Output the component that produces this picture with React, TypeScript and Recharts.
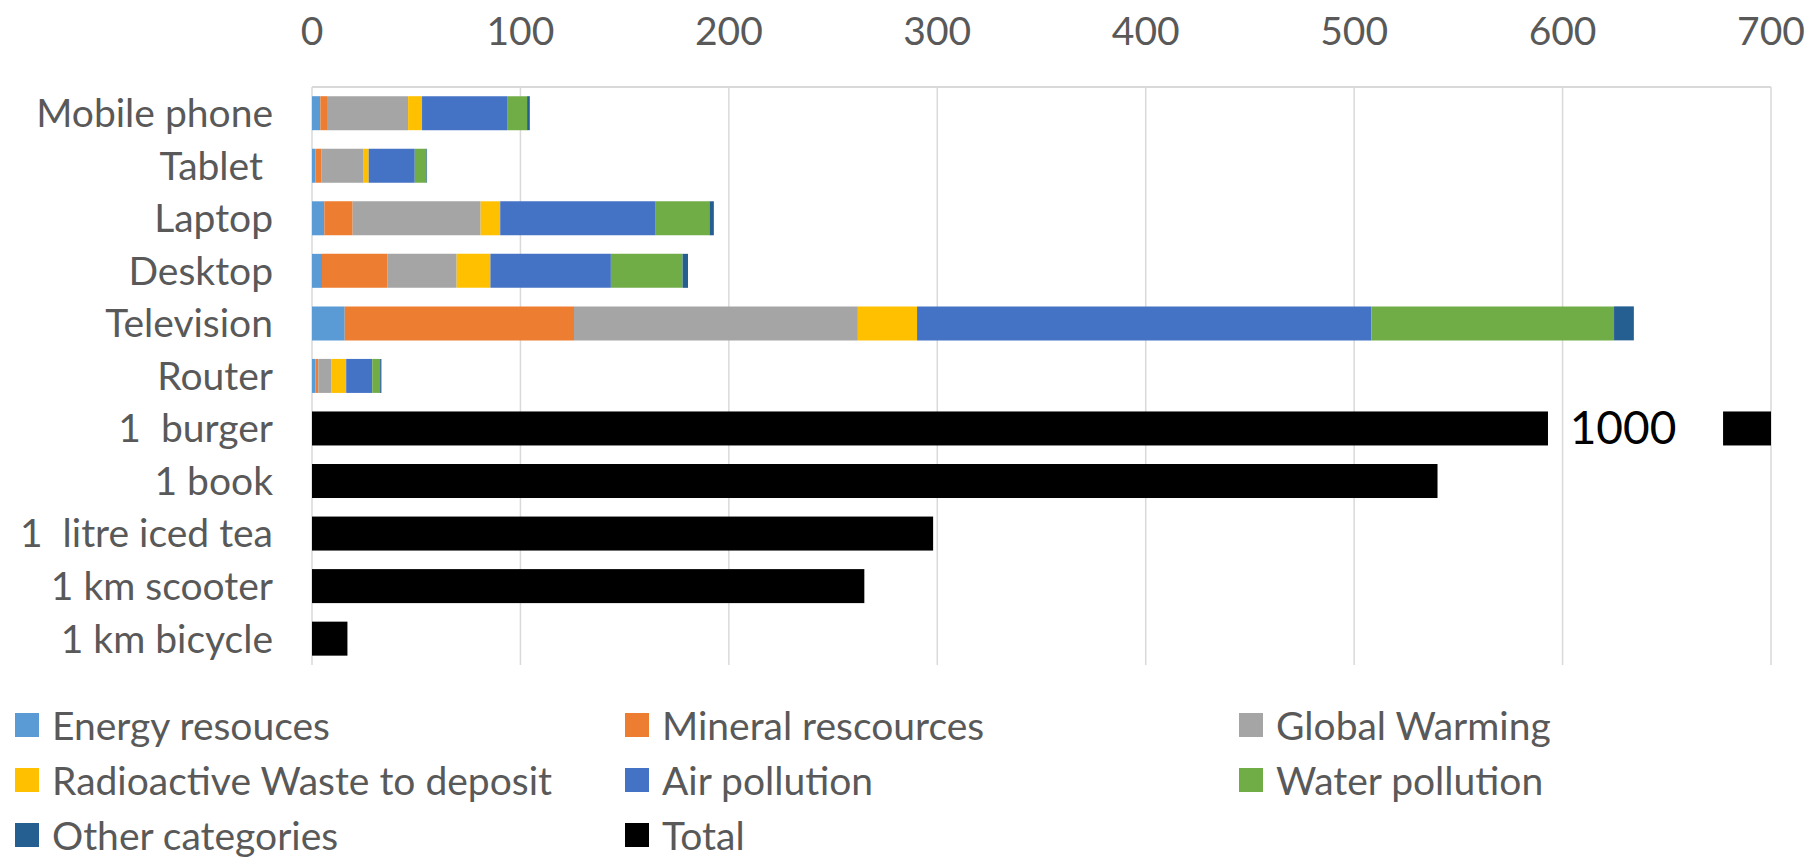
import React from "react";
import { BarChart, Bar, XAxis, YAxis, CartesianGrid, Legend } from "recharts";

const categories = [
  "Mobile phone",
  "Tablet\u00a0",
  "Laptop",
  "Desktop",
  "Television",
  "Router",
  "1\u00a0 burger",
  "1 book",
  "1\u00a0 litre iced tea",
  "1 km scooter",
  "1 km bicycle",
];

// device footprints, one value per device row (first six categories)
const energy = [4.0, 1.6, 5.9, 4.8, 15.7, 1.6];
const mineral = [3.2, 3.0, 13.6, 31.5, 110.0, 1.4];
const warming = [38.9, 20.2, 61.4, 33.1, 136.2, 6.4];
const radioactive = [6.7, 2.4, 9.4, 16.2, 28.4, 7.0];
const air = [41.1, 22.1, 74.6, 57.8, 218.0, 12.5];
const water = [9.3, 5.6, 25.8, 34.4, 116.4, 3.8];
const other = [1.3, 0.3, 2.1, 2.6, 9.5, 0.6];

// comparison items (last five categories)
const totals = [1000, 540, 298, 265, 17];

const xTicks = [0, 100, 200, 300, 400, 500, 600, 700];
const axisMax = 700;
// where the over-long bar is cut, in axis units
const breakStart = 593;
const breakEnd = 677;
const breakLabel = 629;

const series = [
  { key: "energy", name: "Energy resouces", color: "#5B9BD5" },
  { key: "mineral", name: "Mineral rescources", color: "#ED7D31" },
  { key: "warming", name: "Global Warming", color: "#A5A5A5" },
  { key: "radioactive", name: "Radioactive Waste to deposit", color: "#FFC000" },
  { key: "air", name: "Air pollution", color: "#4472C4" },
  { key: "water", name: "Water pollution", color: "#70AD47" },
  { key: "other", name: "Other categories", color: "#255E91" },
  { key: "total", name: "Total", color: "#000000" },
];

const nDevices = energy.length;
const data = categories.map((name, i) => {
  if (i < nDevices) {
    return {
      name,
      energy: energy[i],
      mineral: mineral[i],
      warming: warming[i],
      radioactive: radioactive[i],
      air: air[i],
      water: water[i],
      other: other[i],
      total: 0,
    };
  }
  return {
    name,
    energy: 0,
    mineral: 0,
    warming: 0,
    radioactive: 0,
    air: 0,
    water: 0,
    other: 0,
    total: totals[i - nDevices],
  };
});

const FONT = "Lato, 'Noto Sans', sans-serif";
const GREY_TEXT = "#595959";
const GRID = "#d9d9d9";

function TotalShape(props: any) {
  const { x, y, width, height, payload, fill } = props;
  const total = payload?.total ?? 0;
  if (!total || !width || width <= 0) return null;
  if (total <= axisMax) {
    return <rect x={x} y={y} width={width} height={height} fill={fill} />;
  }
  // the bar arrives clipped to the axis maximum
  const unit = width / axisMax;
  return (
    <g>
      <rect x={x} y={y} width={breakStart * unit} height={height} fill={fill} />
      <rect
        x={x + breakEnd * unit}
        y={y}
        width={(axisMax - breakEnd) * unit}
        height={height}
        fill={fill}
      />
      <text
        x={x + breakLabel * unit}
        y={y + height / 2 + 16}
        textAnchor="middle"
        fontSize={46}
        fontFamily={FONT}
        fill="#000"
      >
        {total}
      </text>
    </g>
  );
}

function LegendGrid() {
  return (
    <div
      style={{
        height: 192,
        boxSizing: "border-box",
        paddingTop: 32,
        paddingLeft: 15,
        display: "grid",
        gridTemplateColumns: "610px 614px auto",
        gridAutoRows: "55px",
        fontFamily: FONT,
        fontSize: 39,
        color: GREY_TEXT,
      }}
    >
      {series.map((s) => (
        <div key={s.key} style={{ display: "flex", alignItems: "center", whiteSpace: "nowrap" }}>
          <span
            style={{
              display: "inline-block",
              width: 24,
              height: 24,
              background: s.color,
              marginRight: 13,
            }}
          />
          <span>{s.name}</span>
        </div>
      ))}
    </div>
  );
}

export default function App() {
  return (
    <div style={{ position: "absolute", left: 0, top: 0, width: 1811, height: 857, background: "#fff" }}>
      <BarChart
        width={1811}
        height={857}
        data={data}
        layout="vertical"
        margin={{ top: 0, right: 40, bottom: 0, left: 0 }}
        barCategoryGap="17.5%"
        style={{ fontFamily: FONT }}
      >
        <CartesianGrid horizontal={false} stroke={GRID} strokeWidth={1.5} />
        <XAxis
          type="number"
          orientation="top"
          domain={[0, axisMax]}
          ticks={xTicks}
          allowDataOverflow
          height={87}
          axisLine={{ stroke: GRID, strokeWidth: 2 }}
          tickLine={false}
          tickSize={0}
          tickMargin={42}
          tick={{ fill: GREY_TEXT, fontSize: 39, fontFamily: FONT }}
        />
        <YAxis
          type="category"
          dataKey="name"
          width={312}
          interval={0}
          axisLine={false}
          tickLine={false}
          tickSize={0}
          tickMargin={39}
          tick={{ fill: GREY_TEXT, fontSize: 39, fontFamily: FONT }}
        />
        <Legend verticalAlign="bottom" content={() => <LegendGrid />} />
        {series.map((s) =>
          s.key === "total" ? (
            <Bar
              key={s.key}
              dataKey={s.key}
              name={s.name}
              stackId="a"
              fill={s.color}
              shape={TotalShape}
              isAnimationActive={false}
            />
          ) : (
            <Bar
              key={s.key}
              dataKey={s.key}
              name={s.name}
              stackId="a"
              fill={s.color}
              isAnimationActive={false}
            />
          )
        )}
      </BarChart>
    </div>
  );
}
